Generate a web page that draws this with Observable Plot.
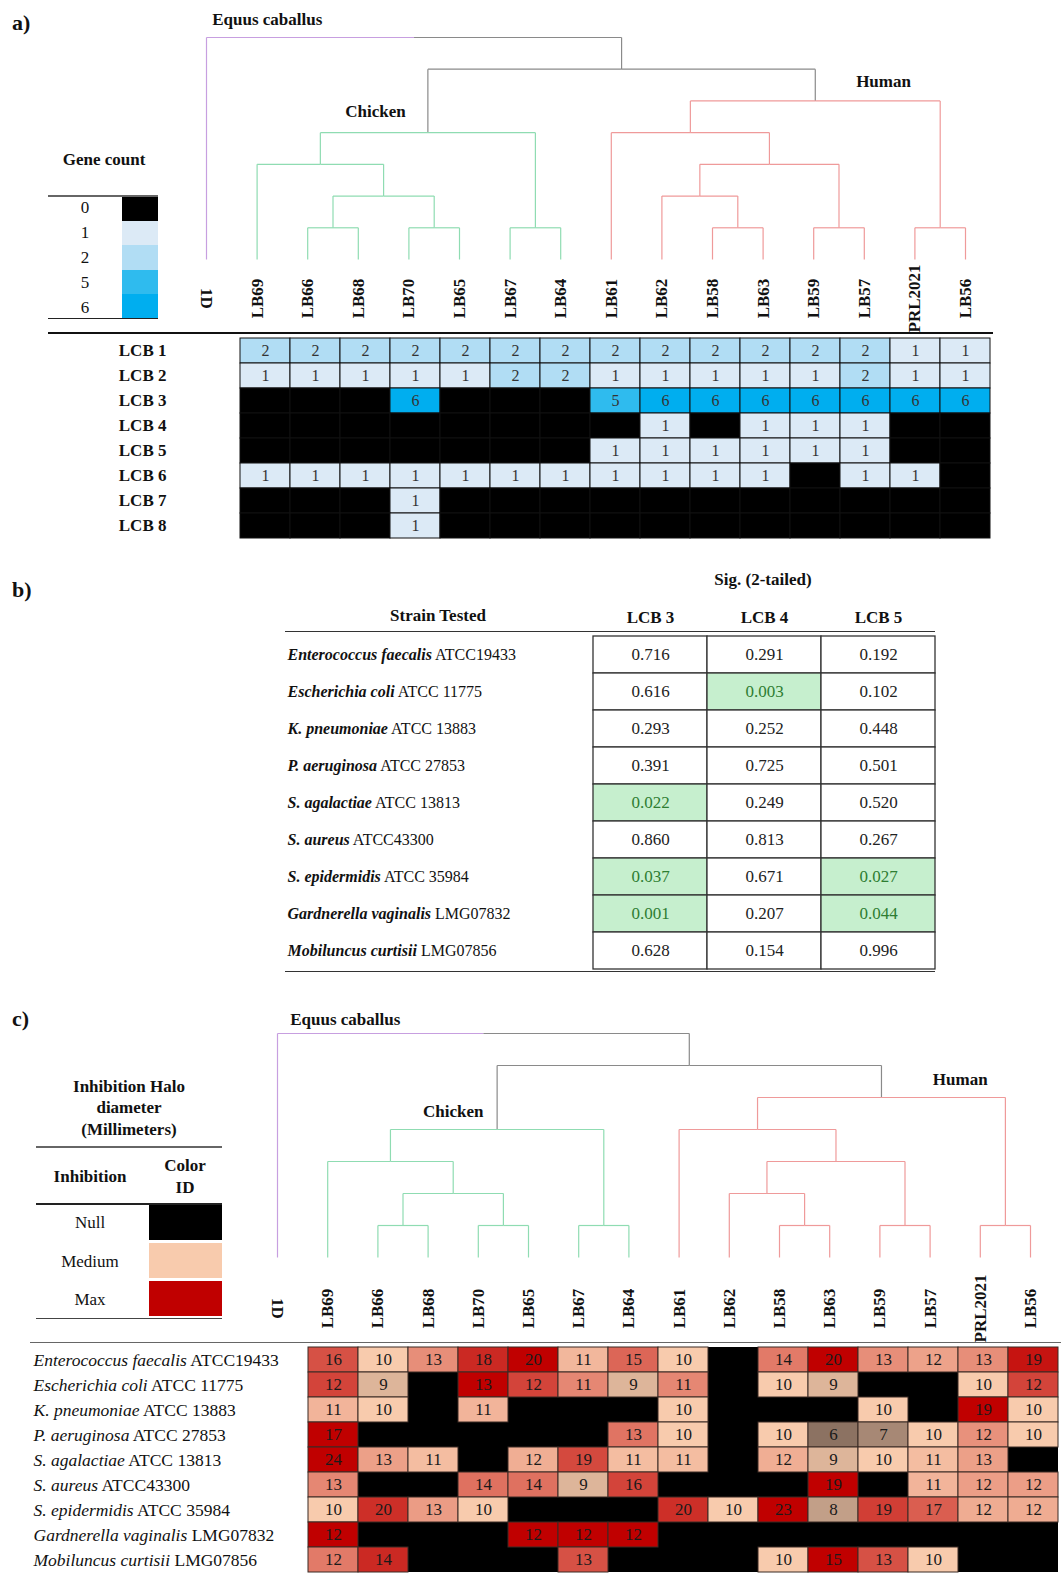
<!DOCTYPE html>
<html><head><meta charset="utf-8">
<script src="https://cdn.jsdelivr.net/npm/d3@7"></script>
<script src="https://cdn.jsdelivr.net/npm/@observablehq/plot@0.6"></script>
<style>
body{margin:0;background:#fff;font-family:"Liberation Serif",serif;color:#111}
#page{position:relative;width:1061px;height:1578px;overflow:hidden}
.abs{position:absolute;white-space:nowrap}
.c{transform:translate(-50%,-50%);text-align:center}
.b{font-weight:bold}
.hl{position:absolute;height:0}
</style></head><body><div id="page"></div>
<script>
// ---- data ----
const leafOrder = ["1D","LB69","LB66","LB68","LB70","LB65","LB67","LB64","LB61","LB62","LB58","LB63","LB59","LB57","PRL2021","LB56"];
const tree = ["1D", [
  [["LB69", [["LB66","LB68"],["LB70","LB65"]]], ["LB67","LB64"]],
  [["LB61", [["LB62",["LB58","LB63"]],["LB59","LB57"]]], ["PRL2021","LB56"]]
]];
const chickenLeaves = ["LB69","LB66","LB68","LB70","LB65","LB67","LB64"];
const humanLeaves = ["LB61","LB62","LB58","LB63","LB59","LB57","PRL2021","LB56"];

const lcbNames = ["LCB 1","LCB 2","LCB 3","LCB 4","LCB 5","LCB 6","LCB 7","LCB 8"];
const geneCounts = [
  [2,2,2,2,2,2,2,2,2,2,2,2,2,1,1],
  [1,1,1,1,1,2,2,1,1,1,1,1,2,1,1],
  [0,0,0,6,0,0,0,5,6,6,6,6,6,6,6],
  [0,0,0,0,0,0,0,0,1,0,1,1,1,0,0],
  [0,0,0,0,0,0,0,1,1,1,1,1,1,0,0],
  [1,1,1,1,1,1,1,1,1,1,1,0,1,1,0],
  [0,0,0,1,0,0,0,0,0,0,0,0,0,0,0],
  [0,0,0,1,0,0,0,0,0,0,0,0,0,0,0]
];
const countLevels = [0,1,2,5,6];
const countColors = ["#000000","#dceaf6","#b1ddf4","#2fbbee","#00aeef"];

const species = ["Enterococcus faecalis","Escherichia coli","K. pneumoniae","P. aeruginosa","S. agalactiae","S. aureus","S. epidermidis","Gardnerella vaginalis","Mobiluncus curtisii"];
const strainIds = ["ATCC19433","ATCC 11775","ATCC 13883","ATCC 27853","ATCC 13813","ATCC43300","ATCC 35984","LMG07832","LMG07856"];
const sigCols = ["LCB 3","LCB 4","LCB 5"];
const sigLCB3 = [0.716,0.616,0.293,0.391,0.022,0.860,0.037,0.001,0.628];
const sigLCB4 = [0.291,0.003,0.252,0.725,0.249,0.813,0.671,0.207,0.154];
const sigLCB5 = [0.192,0.102,0.448,0.501,0.520,0.267,0.027,0.044,0.996];

const halo = [
  [16,10,13,18,20,11,15,10,0,14,20,13,12,13,19],
  [12,9,0,13,12,11,9,11,0,10,9,0,0,10,12],
  [11,10,0,11,0,0,0,10,0,0,0,10,0,19,10],
  [17,0,0,0,0,0,13,10,0,10,6,7,10,12,10],
  [24,13,11,0,12,19,11,11,0,12,9,10,11,13,0],
  [13,0,0,14,14,9,16,0,0,0,19,0,11,12,12],
  [10,20,13,10,0,0,0,20,10,23,8,19,17,12,12],
  [12,0,0,0,12,12,12,0,0,0,0,0,0,0,0],
  [12,14,0,0,0,13,0,0,0,10,15,13,10,0,0]
];

// ---- helpers ----
const page = document.getElementById("page");
const FONT = "Liberation Serif";
function place(el, top, left = 0) { el.style.position = "absolute"; el.style.top = top + "px"; el.style.left = left + "px"; page.appendChild(el); return el; }
function label(txt, x, y, cls = "c b", size = 17) {
  const d = document.createElement("div"); d.className = "abs " + cls; d.textContent = txt;
  d.style.left = x + "px"; d.style.top = y + "px"; d.style.fontSize = size + "px"; page.appendChild(d); return d;
}
function hline(x1, x2, y, w = 2, c = "#555") {
  const d = document.createElement("div"); d.className = "hl";
  d.style.left = x1 + "px"; d.style.width = (x2 - x1) + "px"; d.style.top = y + "px";
  d.style.borderTop = w + "px solid " + c; page.appendChild(d);
}
function box(x, y, w, h, c) {
  const d = document.createElement("div"); d.className = "abs";
  Object.assign(d.style, {left: x + "px", top: y + "px", width: w + "px", height: h + "px", background: c}); page.appendChild(d);
}
// "Species|ID" -> italic species + roman id
function splitLabels(svg, bold) {
  d3.select(svg).selectAll("text").each(function () {
    const t = this.textContent; if (!t.includes("|")) return;
    const [a, b] = t.split("|"); const s = d3.select(this); s.text(null);
    s.append("tspan").attr("font-style", "italic").attr("font-weight", bold ? "bold" : "normal").text(a);
    s.append("tspan").attr("font-weight", "normal").text(" " + b);
  });
}

function dendro({left, right, yLeaf, yRoot, labelY, height, notes}) {
  const root = d3.hierarchy(tree, d => Array.isArray(d) ? d : null);
  root.leaves().forEach(l => l.xi = leafOrder.indexOf(l.data));
  root.eachAfter(n => { if (n.children) n.xi = d3.mean(n.children, c => c.xi); });
  const within = (n, g) => n.leaves().every(l => g.includes(l.data));
  const colorOf = n => {
    if (n.data === "1D") return "#c79fe0";
    if (within(n, chickenLeaves) && within(n.parent, chickenLeaves)) return "#8fdcb2";
    if (within(n, humanLeaves) && within(n.parent, humanLeaves)) return "#ef9a9a";
    return "#8a8a8a";
  };
  const segs = [];
  root.descendants().filter(n => n.parent).forEach(n => {
    const p = n.parent, c = colorOf(n);
    segs.push({x1: n.xi, y1: n.height, x2: n.xi, y2: p.height, c});
    segs.push({x1: n.xi, y1: p.height, x2: p.xi, y2: p.height, c});
  });
  return Plot.plot({
    width: 1061, height,
    style: {fontFamily: FONT, background: "transparent"},
    x: {domain: [0, 15], range: [left, right], axis: null},
    y: {domain: [0, 7], range: [yLeaf, yRoot], axis: null},
    marks: [
      Plot.link(segs, {x1: "x1", y1: "y1", x2: "x2", y2: "y2", stroke: "c", strokeWidth: 1.2}),
      Plot.text(leafOrder, {x: (d, i) => i, y: 0, dy: labelY - yLeaf, rotate: d => d === "1D" ? 90 : -90,
        text: d => d, fontSize: 17, fontWeight: "bold", fill: "#111"}),
      Plot.text(notes, {x: "x", y: "y", text: "t", fontSize: 17, fontWeight: "bold", fill: "#111"})
    ]
  });
}

// ---- panel letters ----
label("a)", 12, 10, "b", 22); label("b)", 12, 577, "b", 22); label("c)", 12, 1006, "b", 22);

// ---- panel a ----
place(dendro({left: 206, right: 965, yLeaf: 259, yRoot: 37, labelY: 298, height: 335,
  notes: [{x: 1.2, y: 7.57, t: "Equus caballus"}, {x: 3.34, y: 4.67, t: "Chicken"}, {x: 13.38, y: 5.62, t: "Human"}]}), 0);

label("Gene count", 104, 160);
hline(48, 158, 195, 2, "#666");
countLevels.forEach((v, i) => { label(String(v), 85, 208 + 25 * i, "c", 17); box(122, 197 + 24.2 * i, 36, 24.2, countColors[i]); });
hline(48, 158, 318, 1.5, "#222");
hline(48, 993, 332, 2.5, "#111");

const geneData = geneCounts.flatMap((row, r) => row.map((v, c) => ({row: lcbNames[r], col: leafOrder[c + 1], v})));
place(Plot.plot({
  width: 1061, height: 219, marginLeft: 237, marginRight: 68, marginTop: 12, marginBottom: 5,
  style: {fontFamily: FONT, background: "transparent"},
  x: {domain: leafOrder.slice(1), padding: 0, axis: null},
  y: {domain: lcbNames, padding: 0, axis: null},
  color: {type: "ordinal", domain: countLevels, range: countColors},
  marks: [
    Plot.cell(geneData, {x: "col", y: "row", fill: "v", stroke: "#111", strokeWidth: 1}),
    Plot.text(geneData.filter(d => d.v > 0), {x: "col", y: "row", text: "v", fontSize: 16, fill: "#333"}),
    Plot.text(lcbNames, {y: d => d, frameAnchor: "left", dx: -71, textAnchor: "end", text: d => d, fontSize: 17, fontWeight: "bold", fill: "#111"})
  ]
}), 325);

// ---- panel b ----
label("Sig. (2-tailed)", 763, 580);
label("Strain Tested", 438, 616);
const sigData = species.flatMap((s, i) => [sigLCB3[i], sigLCB4[i], sigLCB5[i]].map((p, j) => ({strain: s, col: sigCols[j], p})));
place(Plot.plot({
  width: 1061, height: 375, marginLeft: 593, marginRight: 126, marginTop: 32, marginBottom: 3,
  style: {fontFamily: FONT, fontSize: "17px", background: "transparent"},
  x: {domain: sigCols, padding: 0},
  y: {domain: species, padding: 0, axis: null},
  marks: [
    Plot.axisX({anchor: "top", tickSize: 0, tickPadding: 10, fontWeight: "bold", fontSize: 17, label: null}),
    Plot.cell(sigData, {x: "col", y: "strain", fill: d => d.p < 0.05 ? "#c6efce" : "white", stroke: "#333", strokeWidth: 1.3}),
    Plot.text(sigData, {x: "col", y: "strain", text: d => d.p.toFixed(3), fill: d => d.p < 0.05 ? "#2e7d32" : "#222", fontSize: 17}),
    Plot.text(species, {y: d => d, frameAnchor: "left", dx: -306, textAnchor: "start", text: (d, i) => d + "|" + strainIds[i], fontSize: 16, fill: "#111"})
  ]
}), 600);
splitLabels(page.lastChild, true);
hline(285, 935, 631, 1.5, "#333");
hline(285, 935, 971, 1.5, "#333");

// ---- panel c ----
place(dendro({left: 277, right: 1030, yLeaf: 257, yRoot: 33, labelY: 308, height: 345,
  notes: [{x: 1.35, y: 7.44, t: "Equus caballus"}, {x: 3.5, y: 4.56, t: "Chicken"}, {x: 13.6, y: 5.56, t: "Human"}]}), 1000);

label("Inhibition Halo", 129, 1087); label("diameter", 129, 1108); label("(Millimeters)", 129, 1130);
hline(36, 222, 1146, 2, "#666");
label("Inhibition", 90, 1177); label("Color", 185, 1166); label("ID", 185, 1188);
hline(36, 222, 1203, 2, "#222");
[["Null", "#000000"], ["Medium", "#f8cbad"], ["Max", "#c00000"]].forEach(([t, c], i) => {
  label(t, 90, 1223 + 38.5 * i, "c", 17); box(149, 1205 + 38 * i, 73, 35, c);
});
hline(36, 222, 1318, 1.5, "#444");
hline(30, 1061, 1342, 1.2, "#666");

const haloData = halo.flatMap((row, r) => {
  const mx = d3.max(row);
  return row.map((v, c) => ({row: species[r], col: leafOrder[c + 1], v, t: v < 10 ? (v - 10) / 4 : (mx > 10 ? (v - 10) / (mx - 10) : 0)}));
});
place(Plot.plot({
  width: 1061, height: 248, marginLeft: 305, marginRight: 0, marginTop: 15, marginBottom: 5,
  style: {fontFamily: FONT, background: "transparent"},
  x: {domain: leafOrder.slice(1), padding: 0, axis: null},
  y: {domain: species, padding: 0, axis: null},
  color: {type: "linear", domain: [-1, 0, 1], range: ["#8c7262", "#f8cbad", "#c00000"], clamp: true},
  marks: [
    Plot.cell(haloData.filter(d => d.v === 0), {x: "col", y: "row", fill: "black"}),
    Plot.cell(haloData.filter(d => d.v > 0), {x: "col", y: "row", fill: "t", stroke: "#3a2a25", strokeWidth: 1}),
    Plot.text(haloData.filter(d => d.v > 0), {x: "col", y: "row", text: "v", fontSize: 17, fill: "#1a1a1a"}),
    Plot.text(species, {y: d => d, frameAnchor: "left", dx: -272, textAnchor: "start", text: (d, i) => d + "|" + strainIds[i], fontSize: 17.5, fill: "#111"})
  ]
}), 1330);
splitLabels(page.lastChild, false);
</script></body></html>
